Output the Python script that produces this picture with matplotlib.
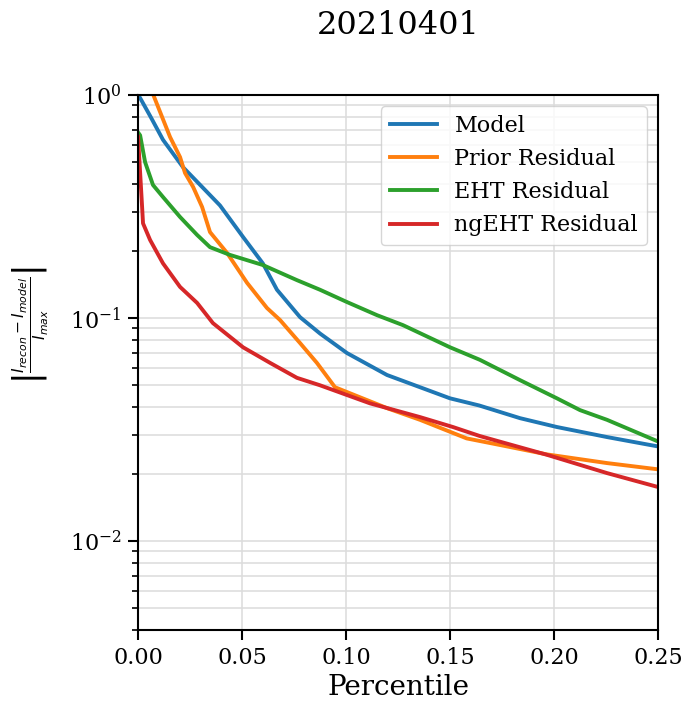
import matplotlib
matplotlib.use("Agg")
import matplotlib.pyplot as plt
from matplotlib.ticker import LogLocator, NullFormatter

plt.rcParams['font.family'] = ['DejaVu Serif']
plt.rcParams['mathtext.fontset'] = 'dejavusans'

title = "20210401"
xlabel = "Percentile"
ylabel = r'$\left|\frac{I_{recon} - I_{model}}{I_{max}}\right|$'

model_x = [0, 0.001, 0.006, 0.012, 0.0216, 0.0346, 0.0394, 0.0505, 0.060, 0.0668, 0.0779,
           0.0875, 0.1005, 0.1197, 0.150, 0.164, 0.1837, 0.2014, 0.2255, 0.25]
model_y = [1.0, 0.97, 0.80, 0.63, 0.475, 0.356, 0.32, 0.231, 0.176, 0.134, 0.101,
           0.0853, 0.0697, 0.0556, 0.0437, 0.0406, 0.0356, 0.0325, 0.0293, 0.0266]

prior_x = [0, 0.007, 0.0154, 0.0202, 0.0226, 0.0265, 0.0308, 0.0346, 0.0428, 0.0524, 0.062,
           0.0683, 0.0779, 0.086, 0.0947, 0.12, 0.1356, 0.158, 0.174, 0.1966, 0.2255, 0.25]
prior_y = [1.6, 1.02, 0.648, 0.527, 0.447, 0.387, 0.315, 0.243, 0.196, 0.144, 0.111,
           0.098, 0.0773, 0.063, 0.049, 0.0394, 0.035, 0.0289, 0.027, 0.0245, 0.0224, 0.021]

eht_x = [0, 0.001, 0.0034, 0.0072, 0.012, 0.0202, 0.0284, 0.0346, 0.0442, 0.060, 0.0764,
         0.0875, 0.1005, 0.115, 0.1274, 0.150, 0.1644, 0.1837, 0.2014, 0.2125, 0.2255, 0.25]
eht_y = [0.68, 0.66, 0.50, 0.395, 0.349, 0.284, 0.236, 0.208, 0.192, 0.173, 0.148,
         0.134, 0.118, 0.103, 0.093, 0.074, 0.065, 0.0527, 0.0437, 0.0387, 0.035, 0.028]

ngeht_x = [0, 0.001, 0.002, 0.0024, 0.0058, 0.012, 0.0202, 0.0284, 0.036, 0.0505, 0.0635,
           0.0764, 0.0875, 0.1115, 0.1356, 0.1514, 0.1644, 0.1966, 0.2255, 0.25]
ngeht_y = [0.65, 0.45, 0.31, 0.266, 0.224, 0.176, 0.138, 0.117, 0.095, 0.074, 0.063,
           0.054, 0.050, 0.0415, 0.036, 0.0325, 0.0296, 0.0244, 0.0202, 0.0175]

series = [
    ("Model", model_x, model_y, "#1f77b4"),
    ("Prior Residual", prior_x, prior_y, "#ff7f0e"),
    ("EHT Residual", eht_x, eht_y, "#2ca02c"),
    ("ngEHT Residual", ngeht_x, ngeht_y, "#d62728"),
]

fig = plt.figure(figsize=(6.84, 7.07), dpi=100)
ax = fig.add_axes([0.2018, 0.1089, 0.7602, 0.7567])

for name, xs, ys, c in series:
    ax.plot(xs, ys, color=c, lw=2.8, label=name)

ax.set_yscale('log')
ax.set_xlim(0, 0.25)
ax.set_ylim(0.004, 1.0)
ax.yaxis.set_minor_locator(LogLocator(base=10, subs=range(2, 10)))
ax.yaxis.set_minor_formatter(NullFormatter())
ax.set_xticks([0, 0.05, 0.10, 0.15, 0.20, 0.25])
ax.set_xticklabels(["0.00", "0.05", "0.10", "0.15", "0.20", "0.25"])

ax.grid(True, which='major', axis='both', color='#dcdcdc', lw=1.4, alpha=0.8)
ax.grid(True, which='minor', axis='y', color='#dcdcdc', lw=1.4, alpha=0.8)
ax.set_axisbelow(True)

ax.tick_params(axis='both', which='major', labelsize=16, length=7, width=1.5, pad=5)
ax.tick_params(axis='y', which='minor', length=4.5, width=1.2)
for s in ax.spines.values():
    s.set_linewidth(1.5)

ax.set_xlabel(xlabel, fontsize=20, labelpad=4)
ax.set_ylabel(ylabel, fontsize=16)
ax.yaxis.set_label_coords(-0.17, 0.57)
ax.set_title(title, fontsize=23, pad=44)

ax.legend(loc='upper right', fontsize=16, handlelength=2.1, borderaxespad=0.5)

fig.savefig("out.png", dpi=100)
